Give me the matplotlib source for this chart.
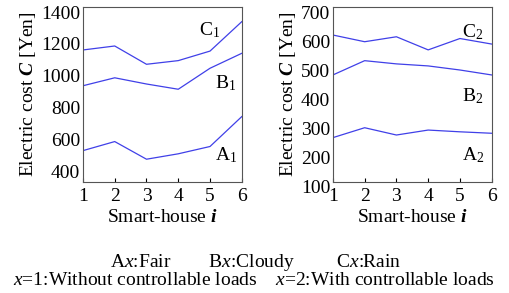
import numpy as np
import matplotlib
matplotlib.use("Agg")
import matplotlib.pyplot as plt
import matplotlib.transforms as mtransforms

plt.rcParams["font.family"] = "Liberation Serif"
plt.rcParams["mathtext.fontset"] = "custom"
plt.rcParams["mathtext.rm"] = "Liberation Serif"
plt.rcParams["mathtext.it"] = "Liberation Serif:italic"
plt.rcParams["mathtext.bf"] = "Liberation Serif:bold"
plt.rcParams["mathtext.bfit"] = "Liberation Serif:italic:bold"

houses = [1, 2, 3, 4, 5, 6]

# without controllable loads (x=1)
fair_1 = [497, 554, 443, 477, 523, 711]
cloudy_1 = [905, 955, 916, 883, 1015, 1109]
rain_1 = [1130, 1155, 1040, 1063, 1123, 1308]

# with controllable loads (x=2)
fair_2 = [252, 286, 261, 278, 272, 267]
cloudy_2 = [467, 516, 505, 498, 484, 467]
rain_2 = [604, 581, 598, 553, 592, 573]

left_ticks = [400, 600, 800, 1000, 1200, 1400]
right_ticks = [100, 200, 300, 400, 500, 600, 700]

line_color = "#4040e8"

fig = plt.figure(figsize=(5.09, 2.93), dpi=100)
ax1 = fig.add_axes([0.163, 0.379, 0.312, 0.597])
ax2 = fig.add_axes([0.654, 0.379, 0.312, 0.597])

panels = [
    (ax1, [fair_1, cloudy_1, rain_1], (300, 1400), left_ticks,
     [(5.15, 470, "A$_1$"), (5.15, 922, "B$_1$"), (4.65, 1255, "C$_1$")]),
    (ax2, [fair_2, cloudy_2, rain_2], (100, 700), right_ticks,
     [(5.05, 193, "A$_2$"), (5.05, 393, "B$_2$"), (5.05, 615, "C$_2$")]),
]

for ax, series, ylim, yticks, labels in panels:
    for vals in series:
        ax.plot(houses, vals, color=line_color, lw=0.9)
    ax.set_xlim(1, 6)
    ax.set_ylim(*ylim)
    ax.set_xticks(houses)
    ax.set_yticks(yticks)
    ax.tick_params(axis="x", direction="in", length=3, labelsize=14, pad=4)
    ax.tick_params(axis="y", length=0, labelsize=14, pad=2)
    offset = mtransforms.ScaledTranslation(0, -5 / 100, fig.dpi_scale_trans)
    for lab in ax.get_yticklabels():
        lab.set_transform(lab.get_transform() + offset)
    for sp in ax.spines.values():
        sp.set_color("#555555")
        sp.set_linewidth(0.8)
    for x, y, s in labels:
        ax.text(x, y, s, fontsize=14, ha="left", va="center")
    ax.set_xlabel(r"Smart-house $\mathbfit{i}$", fontsize=14, labelpad=3)
    ax.set_ylabel(r"Electric cost $\mathbfit{C}$ [Yen]", fontsize=14, labelpad=2)

fig.text(0.502, 0.105, r"A$\mathit{x}$:Fair        B$\mathit{x}$:Cloudy         C$\mathit{x}$:Rain",
         fontsize=14, ha="center", va="center")
fig.text(0.498, 0.042, r"$\mathit{x}$=1:Without controllable loads    $\mathit{x}$=2:With controllable loads",
         fontsize=14, ha="center", va="center")

fig.savefig("out.png", dpi=100)
